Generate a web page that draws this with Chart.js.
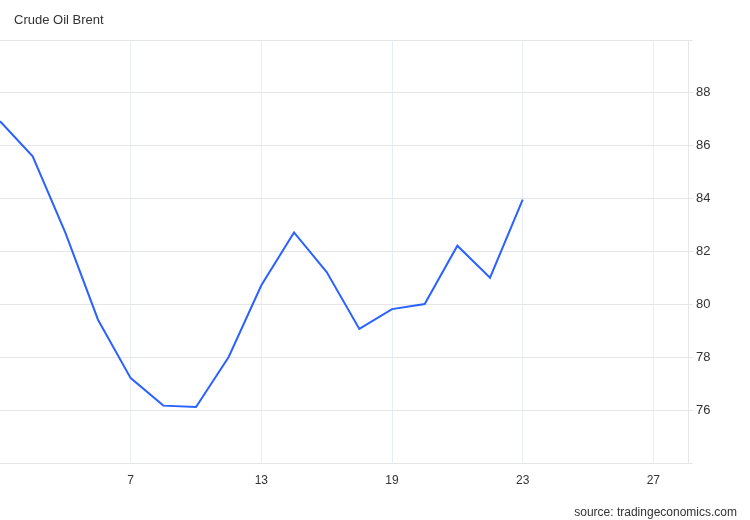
<!DOCTYPE html>
<html>
<head>
<meta charset="utf-8">
<script src="https://cdn.jsdelivr.net/npm/chart.js@4.4.1/dist/chart.umd.min.js"></script>
<style>
  html, body { margin: 0; padding: 0; background: #fff; }
  #wrap { position: relative; width: 750px; height: 520px; }
  #title { position: absolute; left: 14px; top: 12px; font: 13px "Liberation Sans", Arial, sans-serif; color: #333; white-space: nowrap; }
  #source { position: absolute; right: 13px; top: 505px; font: 12px "Liberation Sans", Arial, sans-serif; color: #333; white-space: nowrap; }
  canvas { position: absolute; left: 0; top: 0; }
</style>
</head>
<body>
<div id="wrap">
  <canvas id="c" width="750" height="520"></canvas>
  <div id="title">Crude Oil Brent</div>
  <div id="source">source: tradingeconomics.com</div>
</div>
<script>
// Data (x = trading-day index, y = price)
const dayIndex = [0,1,2,3,4,5,6,7,8,9,10,11,12,13,14,15,16];
const prices = [86.93,85.60,82.71,79.42,77.21,76.17,76.12,78.01,80.72,82.72,81.22,79.07,79.82,80.01,82.22,81.01,83.96];
const tickIndex = [4,8,12,16,20];
const tickLabels = ['7','13','19','23','27'];
const yTicks = [74,76,78,80,82,84,86,88,90];
const yLabelled = [76,78,80,82,84,86,88];

const points = dayIndex.map((d, i) => ({x: d, y: prices[i]}));
const fontFamily = '"Liberation Sans", Arial, sans-serif';

new Chart(document.getElementById('c'), {
  type: 'line',
  data: {
    datasets: [{
      data: points,
      borderColor: '#2962ff',
      borderWidth: 2,
      pointRadius: 0,
      tension: 0,
      fill: false
    }]
  },
  options: {
    responsive: false,
    animation: false,
    events: [],
    layout: {padding: {top: 40, left: 0, right: 0, bottom: 0}},
    plugins: {legend: {display: false}, tooltip: {enabled: false}, title: {display: false}},
    scales: {
      x: {
        type: 'linear',
        min: 0,
        max: 21.06,
        afterBuildTicks: (s) => { s.ticks = tickIndex.map(v => ({value: v})); },
        afterFit: (s) => { s.height = 57; },
        ticks: {
          font: {family: fontFamily, size: 12},
          color: '#333',
          padding: 10,
          maxRotation: 0,
          autoSkip: false,
          callback: (v) => { const i = tickIndex.indexOf(v); return i >= 0 ? tickLabels[i] : ''; }
        },
        grid: {color: '#e9eef5', drawTicks: false, lineWidth: 1},
        border: {color: '#e6e6e6', width: 1}
      },
      y: {
        position: 'right',
        min: 74,
        max: 90,
        afterBuildTicks: (s) => { s.ticks = yTicks.map(v => ({value: v})); },
        afterFit: (s) => { s.width = 62; },
        ticks: {
          font: {family: fontFamily, size: 13},
          color: '#333',
          padding: 3,
          autoSkip: false,
          callback: (v) => yLabelled.includes(v) ? String(v) : ''
        },
        grid: {color: '#e6e6e6', tickLength: 5, lineWidth: 1},
        border: {color: '#e6e6e6', width: 1}
      }
    }
  }
});
</script>
</body>
</html>
